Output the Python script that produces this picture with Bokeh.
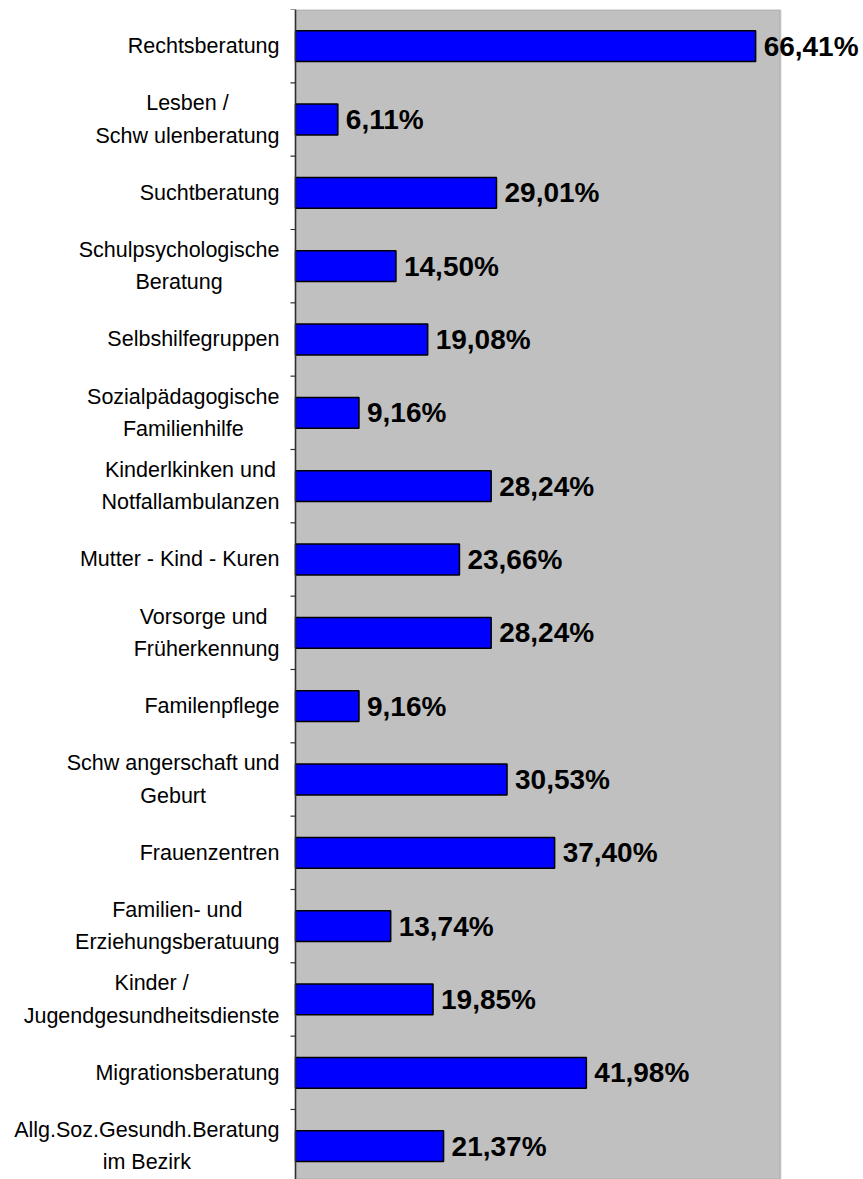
from bokeh.plotting import figure
from bokeh.models import Range1d, Label, BoxAnnotation, Span
from bokeh.core.properties import value
from bokeh.embed import file_html
from bokeh.resources import INLINE

categories = [
    "Rechtsberatung",
    "Lesben /\nSchw ulenberatung",
    "Suchtberatung",
    "Schulpsychologische\nBeratung",
    "Selbshilfegruppen",
    "Sozialpädagogische\nFamilienhilfe",
    "Kinderlkinken und\nNotfallambulanzen",
    "Mutter - Kind - Kuren",
    "Vorsorge und \nFrüherkennung",
    "Familenpflege",
    "Schw angerschaft und\nGeburt",
    "Frauenzentren",
    "Familien- und\nErziehungsberatuung",
    "Kinder /\nJugendgesundheitsdienste",
    "Migrationsberatung",
    "Allg.Soz.Gesundh.Beratung\nim Bezirk",
]
values = [66.41, 6.11, 29.01, 14.50, 19.08, 9.16, 28.24, 23.66,
          28.24, 9.16, 30.53, 37.40, 13.74, 19.85, 41.98, 21.37]

FONT = "Liberation Sans"
n = len(categories)
pos = list(range(n))

W, H = 863, 1179
AXIS_X = 295          # screen x of the value axis origin
AXIS_MAX = 70
AXIS_W = 485          # pixel width of the 0..70 region
PPU = AXIS_W / AXIS_MAX
X_START = -AXIS_X / PPU
X_END = (W - AXIS_X) / PPU

p = figure(width=W, height=H, output_backend="svg", toolbar_location=None,
           x_range=Range1d(X_START, X_END), y_range=Range1d(15.455, -0.5),
           x_axis_location=None, y_axis_location=None,
           min_border_left=0, min_border_right=0,
           min_border_top=9, min_border_bottom=0)
p.background_fill_color = "white"
p.border_fill_color = "white"
p.outline_line_color = None
p.xgrid.visible = False
p.ygrid.visible = False

p.add_layout(BoxAnnotation(left=0, right=AXIS_MAX, fill_color="#C0C0C0",
                           fill_alpha=1.0, line_color="#808080", line_width=2,
                           level="underlay"))

p.hbar(y=pos, right=values, left=0, height=0.42, fill_color="#0000FF",
       line_color="black", line_width=1.5)

# category axis line and ticks between categories
p.add_layout(Span(location=0, dimension="height", line_color="#303030",
                  line_width=1.5))
bounds = [i - 0.5 for i in range(n + 1)]
p.segment(x0=[0] * len(bounds), x1=[-5 / PPU] * len(bounds), y0=bounds, y1=bounds,
          line_color="#303030", line_width=1.2)

# category labels: block right-aligned, lines centred
p.text(x=[0] * n, y=pos, text=categories, x_offset=-16,
       anchor="center_right", text_align="center", text_baseline="middle",
       text_font=value(FONT), text_font_size="21.5px", text_line_height=1.35,
       text_color="black")

for i, v in enumerate(values):
    txt = f"{v:.2f}".replace(".", ",") + "%"
    p.add_layout(Label(x=v, y=i, x_offset=8, text=txt, text_align="left",
                       text_baseline="middle", text_font=FONT,
                       text_font_size="28px", text_font_style="bold",
                       text_color="black"))

open("out.html", "w").write(file_html(p, INLINE))
